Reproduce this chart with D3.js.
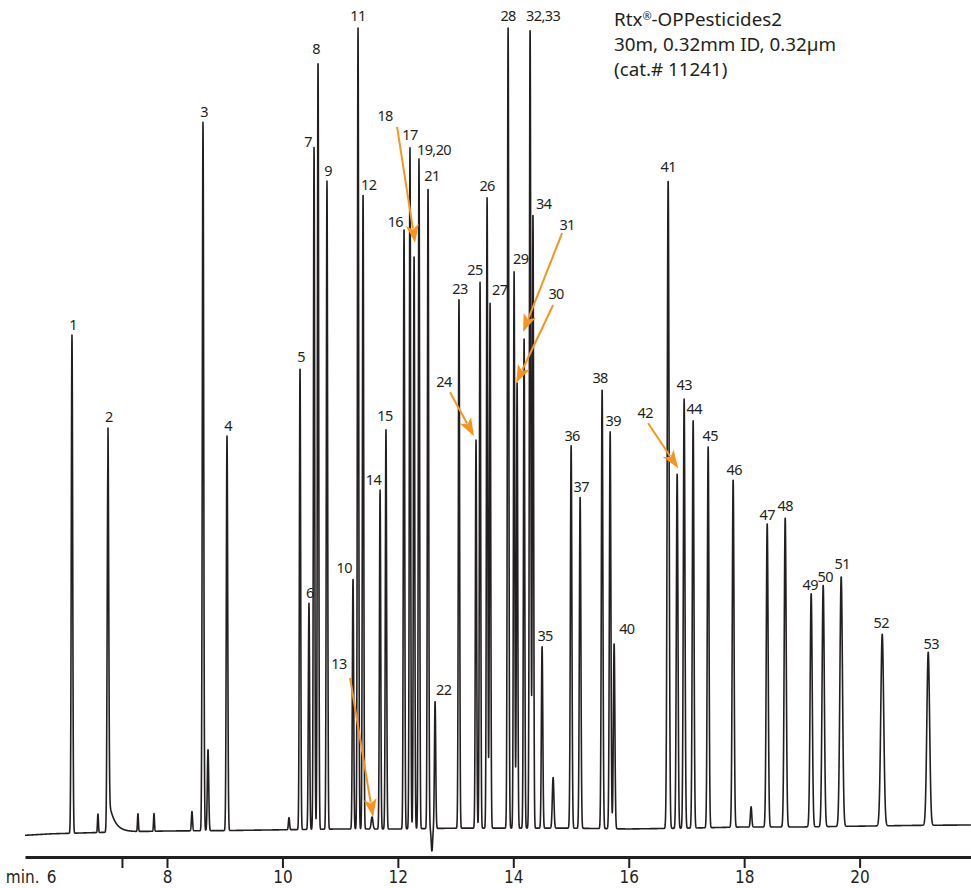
<!DOCTYPE html>
<html>
<head>
<meta charset="utf-8">
<script src="https://cdn.jsdelivr.net/npm/d3@7"></script>
<style>
  body { margin: 0; background: #fff; }
  .peak-label { font-family: "Noto Sans", sans-serif; font-size: 14.5px; letter-spacing: -0.6px; fill: #231f20; }
  .title { font-family: "Noto Sans", sans-serif; font-size: 18.8px; fill: #231f20; }
  .axis text { font-family: "Liberation Sans Narrow", "DejaVu Sans Condensed", sans-serif; font-size: 17px; fill: #231f20; }
</style>
</head>
<body>
<div class="chart"></div>
<script>
// peak table (retention time in min, height in % of the tallest)
var peakNames = ["1","2","3","4","5","6","7","8","9","10",
  "11","12","13","14","15","16","17","18","19,20","21",
  "22","23","24","25","26","27","28","29","30","31",
  "32,33","34","35","36","37","38","39","40","41","42",
  "43","44","45","46","47","48","49","50","51","52","53"];
var peakTimes = [6.354, 6.977, 8.624, 9.040, 10.305, 10.460, 10.548, 10.617, 10.772, 11.223,
  11.310, 11.397, 11.553, 11.692, 11.794, 12.107, 12.210, 12.281, 12.366, 12.523,
  12.645, 13.059, 13.354, 13.424, 13.546, 13.598, 13.910, 14.014, 14.066, 14.187,
  14.291, 14.341, 14.499, 15.002, 15.158, 15.539, 15.678, 15.747, 16.683, 16.839,
  16.960, 17.116, 17.376, 17.809, 18.399, 18.711, 19.161, 19.369, 19.681, 20.392, 21.189];
var peakHeights = [61.9, 45.9, 88.0, 49.0, 57.4, 28.1, 84.7, 95.5, 80.5, 31.1,
  99.5, 79.0, 1.5, 42.1, 49.6, 74.7, 84.6, 71.3, 83.2, 79.7,
  15.8, 65.9, 48.2, 67.8, 78.3, 65.2, 99.4, 69.1, 55.3, 61.0,
  99.4, 76.4, 22.6, 47.5, 41.1, 54.6, 49.3, 23.0, 80.5, 44.1,
  53.3, 50.6, 47.3, 43.2, 37.7, 38.4, 29.0, 30.0, 31.0, 23.8, 21.5];
var peakWidths = [0.012, 0.013, 0.012, 0.012, 0.011, 0.011, 0.011, 0.011, 0.011, 0.011,
  0.011, 0.011, 0.015, 0.011, 0.011, 0.011, 0.011, 0.011, 0.011, 0.011,
  0.011, 0.011, 0.011, 0.011, 0.011, 0.011, 0.012, 0.011, 0.011, 0.011,
  0.012, 0.011, 0.012, 0.013, 0.013, 0.013, 0.013, 0.013, 0.016, 0.014,
  0.014, 0.014, 0.014, 0.015, 0.016, 0.017, 0.018, 0.019, 0.022, 0.025, 0.024];

// tailing after peak 2
var tailNames = ["2"];
var tailAmps = [4.5];
var tailTaus = [0.1];

// small unlabeled bumps and the dip after peak 21
var minorTimes = [6.804, 7.497, 7.775, 8.433, 8.711, 10.114, 12.590, 14.690, 18.120];
var minorHeights = [2.3, 2.2, 2.2, 2.4, 10.1, 1.5, -2.8, 6.3, 2.5];
var minorWidths = [0.008, 0.008, 0.008, 0.01, 0.012, 0.01, 0.012, 0.014, 0.012];

// baseline drift
var baseTimes = [5.5, 6, 7, 8, 9, 10, 11, 12, 13, 14, 15, 16, 17, 18, 19, 20, 21, 22];
var baseLevels = [-0.3, -0.1, 0.1, 0.25, 0.3, 0.4, 0.5, 0.5, 0.6, 0.6, 0.6, 0.5, 0.6, 0.75, 0.75, 0.85, 0.95, 1.0];

// axis ticks
var tickValues = [7.22, 8, 10, 12, 14, 16, 18, 20];
var tickLabels = ["", "8", "10", "12", "14", "16", "18", "20"];

var titleLines = ["30m, 0.32mm ID, 0.32µm", "(cat.# 11241)"];

var svgWidth = 971;
var svgHeight = 888;

var svg = d3.select(".chart")
  .append("svg")
  .attr("width", svgWidth)
  .attr("height", svgHeight);

var x = d3.scaleLinear().domain([5.54, 21.93]).range([25, 971]);
var y = d3.scaleLinear().domain([0, 100]).range([833, 28]);
var baseline = d3.scaleLinear().domain(baseTimes).range(baseLevels);

function signal(t) {
  var v = baseline(t);
  for (var i = 0; i < peakTimes.length; i++) {
    var z = (t - peakTimes[i]) / peakWidths[i];
    if (Math.abs(z) < 9) v += peakHeights[i] * Math.exp(-0.5 * z * z);
  }
  for (var j = 0; j < minorTimes.length; j++) {
    var zz = (t - minorTimes[j]) / minorWidths[j];
    if (Math.abs(zz) < 9) v += minorHeights[j] * Math.exp(-0.5 * zz * zz);
  }
  tailNames.forEach(function(n, k) {
    var tc = peakTimes[peakNames.indexOf(n)];
    if (t > tc) v += tailAmps[k] * Math.exp(-(t - tc) / tailTaus[k]);
  });
  return v;
}

var trace = d3.range(5.54, 21.93, 0.002).map(function(t) {
  return { t: t, v: signal(t) };
});

var line = d3.line()
  .x(d => x(d.t))
  .y(d => y(d.v));

svg.append("path")
  .datum(trace)
  .attr("d", line)
  .attr("fill", "none")
  .attr("stroke", "#231f20")
  .attr("stroke-width", 1.6)
  .attr("stroke-linejoin", "round");

// axis
var bottomAxis = d3.axisBottom(x)
  .tickValues(tickValues)
  .tickFormat((d, i) => tickLabels[i])
  .tickSize(11)
  .tickSizeOuter(0);

var xAxis = svg.append("g")
  .attr("class", "axis")
  .attr("transform", "translate(0, 857)")
  .style("color", "#231f20")
  .call(bottomAxis);

xAxis.select(".domain").attr("stroke-width", 3);
xAxis.selectAll(".tick line").attr("stroke-width", 2);
xAxis.selectAll(".tick text").attr("y", 14);

xAxis.append("text")
  .attr("x", x(6))
  .attr("y", 14)
  .attr("dy", "0.71em")
  .attr("text-anchor", "middle")
  .text("6");
xAxis.append("text")
  .attr("x", x(6) - 12)
  .attr("y", 14)
  .attr("dy", "0.71em")
  .attr("text-anchor", "end")
  .text("min.");

// peak labels (offsets in px from the peak apex)
var labelOffsets = {
  "7": ["end", -2, -1], "8": ["middle", -2, -7], "10": ["end", -1, -6], "11": ["middle", 0, -7],
  "12": ["start", -2, -3], "14": ["end", 1, -5], "15": ["middle", -1, -9], "16": ["end", -1, -1],
  "17": ["middle", 0, -8], "19,20": ["start", -2, -4], "21": ["middle", 4, -6], "22": ["start", 1, -6],
  "23": ["middle", 1, -4], "25": ["middle", -5, -7], "26": ["middle", 0, -7], "27": ["start", 2, -8],
  "28": ["middle", 0, -7], "29": ["start", -1, -8], "32,33": ["start", -4, -7], "34": ["start", 3, -4],
  "35": ["middle", 3, -5], "38": ["middle", -2, -6], "39": ["middle", 3, -6], "40": ["start", 5, -10],
  "41": ["middle", 0, -8], "43": ["middle", 0, -9], "44": ["middle", 1, -7], "45": ["middle", 2, -6],
  "46": ["middle", 1, -4], "47": ["middle", 0, -3], "48": ["middle", 0, -7], "49": ["middle", -1, -3],
  "50": ["middle", 2, -3], "51": ["middle", 1, -8], "52": ["middle", -1, -6], "53": ["middle", 3, -3]
};

// arrowed labels: tip, tail and label centre, px from the peak apex
var arrowLayout = {
  "13": { tip: [1, 0], tail: [-22, -139], label: [-33, -153] },
  "18": { tip: [1, -12], tail: [-17, -128], label: [-29, -139] },
  "24": { tip: [-2, -4], tail: [-26, -48], label: [-32, -58] },
  "30": { tip: [-1, 0], tail: [36, -78], label: [39, -89] },
  "31": { tip: [-1, -5], tail: [38, -104], label: [43, -112] },
  "42": { tip: [1, -5], tail: [-29, -50], label: [-32, -60] }
};

var peaks = peakNames.map(function(n, i) {
  var t = peakTimes[i];
  var h = peakHeights[i];
  var ti = tailNames.indexOf(n);
  if (ti >= 0) h += tailAmps[ti];
  return { name: n, px: x(t), py: y(baseline(t) + h) };
});

var labelGroup = svg.append("g");
var arrowGroup = svg.append("g");

peaks.forEach(function(p) {
  var a = arrowLayout[p.name];
  if (a) {
    var tipX = p.px + a.tip[0], tipY = p.py + a.tip[1];
    var tailX = p.px + a.tail[0], tailY = p.py + a.tail[1];
    var dx = tipX - tailX, dy = tipY - tailY;
    var len = Math.sqrt(dx * dx + dy * dy);
    var ux = dx / len, uy = dy / len;
    var nx = -uy, ny = ux;
    var L = 18, W = 6.5;
    var bx = tipX - L * ux, by = tipY - L * uy;
    arrowGroup.append("line")
      .attr("x1", tailX).attr("y1", tailY)
      .attr("x2", tipX - 0.8 * L * ux).attr("y2", tipY - 0.8 * L * uy)
      .attr("stroke", "#f7941d")
      .attr("stroke-width", 2);
    arrowGroup.append("polygon")
      .attr("points", [
        [tipX, tipY],
        [bx + W * nx, by + W * ny],
        [tipX - 0.75 * L * ux, tipY - 0.75 * L * uy],
        [bx - W * nx, by - W * ny]
      ].map(q => q.join(",")).join(" "))
      .attr("fill", "#f7941d");
    labelGroup.append("text")
      .attr("class", "peak-label")
      .attr("x", p.px + a.label[0])
      .attr("y", p.py + a.label[1] + 5)
      .attr("text-anchor", "middle")
      .text(p.name);
  } else {
    var o = labelOffsets[p.name] || ["middle", 1, -5];
    labelGroup.append("text")
      .attr("class", "peak-label")
      .attr("x", p.px + o[1])
      .attr("y", p.py + o[2])
      .attr("text-anchor", o[0])
      .text(p.name);
  }
});

// title block
var title = svg.append("text")
  .attr("class", "title")
  .attr("x", 614)
  .attr("y", 26);
title.append("tspan").text("Rtx");
title.append("tspan").attr("font-size", "11px").attr("dy", -6).text("®");
title.append("tspan").attr("dy", 6).text("-OPPesticides2");

titleLines.forEach(function(s, i) {
  svg.append("text")
    .attr("class", "title")
    .attr("x", 614)
    .attr("y", 51 + i * 25)
    .text(s);
});
</script>
</body>
</html>
